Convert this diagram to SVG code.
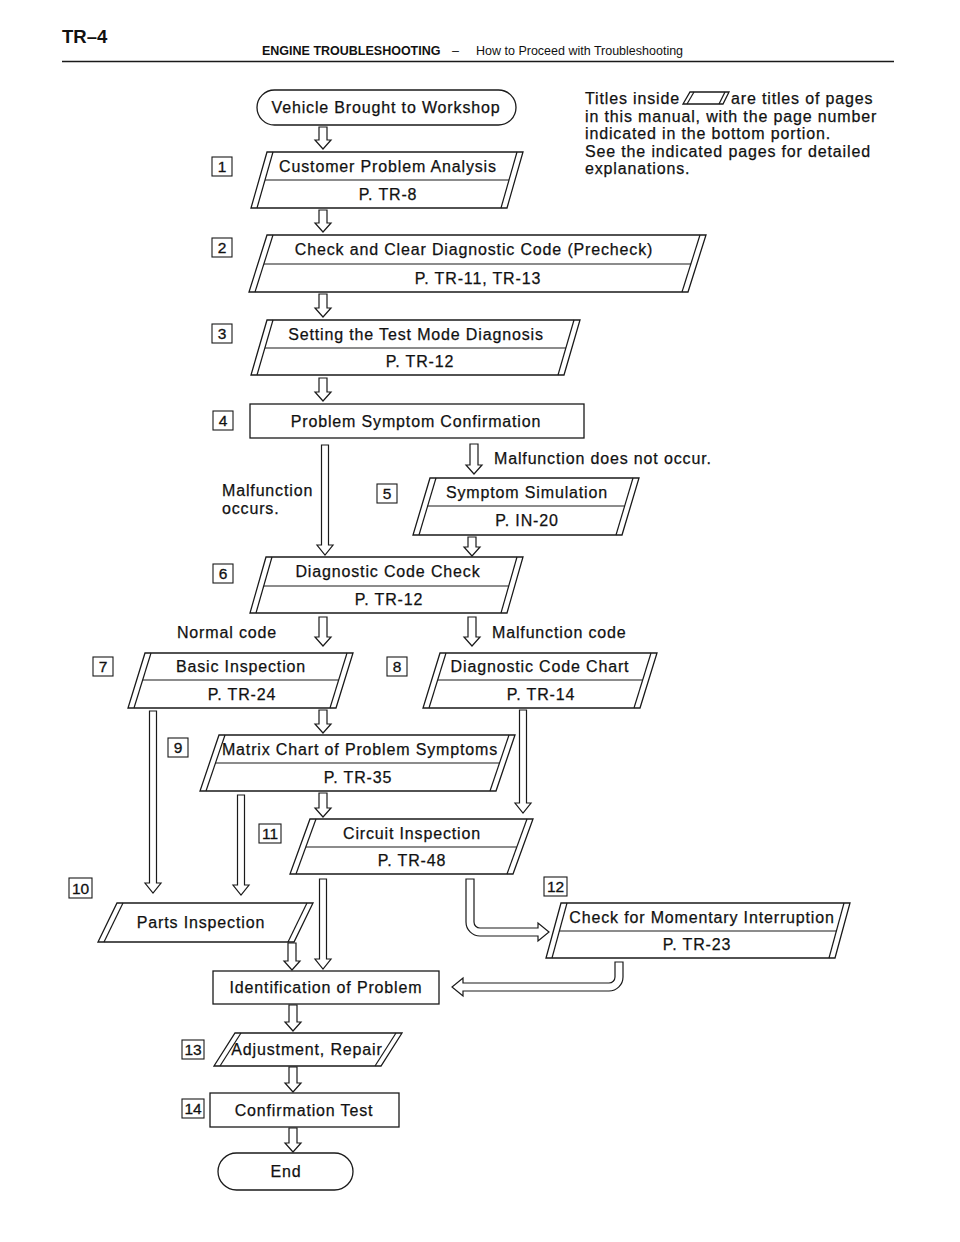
<svg xmlns="http://www.w3.org/2000/svg" width="960" height="1242" viewBox="0 0 960 1242">
<style>
.bg{fill:#fff}
.sh{fill:#fff;stroke:#1a1a1a;stroke-width:1.3}
.ln{fill:none;stroke:#1a1a1a;stroke-width:1.2}
.t{font-family:"Liberation Sans",Arial,sans-serif;font-size:16px;letter-spacing:0.85px;fill:#111;stroke:#111;stroke-width:0.25;text-anchor:middle}
.tl{font-family:"Liberation Sans",Arial,sans-serif;font-size:16px;letter-spacing:0.85px;fill:#111;stroke:#111;stroke-width:0.25}
.nb{fill:#fff;stroke:#1a1a1a;stroke-width:1.1}
.nt{font-family:"Liberation Sans",Arial,sans-serif;font-size:15.5px;fill:#111;stroke:#111;stroke-width:0.3;text-anchor:middle}
.ar{fill:#fff;stroke:#1a1a1a;stroke-width:1.2;stroke-linejoin:miter}
.hb{font-family:"Liberation Sans",Arial,sans-serif;font-weight:bold;fill:#111}
.hr{font-family:"Liberation Sans",Arial,sans-serif;fill:#111}
</style>
<rect class="bg" x="0" y="0" width="960" height="1242"/>

<g id="header">
<text class="hb" x="62" y="43" font-size="18.5">TR–4</text>
<text class="hb" x="262" y="55" font-size="12.5">ENGINE TROUBLESHOOTING</text>
<text class="hr" x="452" y="55" font-size="12.5">–</text>
<text class="hr" x="476" y="55" font-size="12.5">How to Proceed with Troubleshooting</text>
<line x1="62" y1="61.5" x2="894" y2="61.5" stroke="#1a1a1a" stroke-width="1.6"/>
</g>

<g id="note">
<text class="tl" x="585" y="104">Titles inside</text>
<polygon class="sh" points="690,92 729,92 723,104 683,104" stroke-width="1"/>
<line class="ln" x1="694" y1="92" x2="687" y2="104" stroke-width="1"/>
<line class="ln" x1="725" y1="92" x2="719" y2="104" stroke-width="1"/>
<text class="tl" x="731" y="104">are titles of pages</text>
<text class="tl" x="585" y="121.5">in this manual, with the page number</text>
<text class="tl" x="585" y="139">indicated in the bottom portion.</text>
<text class="tl" x="585" y="156.5">See the indicated pages for detailed</text>
<text class="tl" x="585" y="174">explanations.</text>
</g>

<g id="connectors">
<path class="ar" d="M319 127 V140 H315 L323 149 L331 140 H327 V127 Z"/>
<path class="ar" d="M319 210 V223 H315 L323 232 L331 223 H327 V210 Z"/>
<path class="ar" d="M319 294 V308 H315 L323 317 L331 308 H327 V294 Z"/>
<path class="ar" d="M319 378 V392 H315 L323 401 L331 392 H327 V378 Z"/>
<path class="ar" d="M470 444 V465 H466 L474 474 L482 465 H478 V444 Z"/>
<path class="ar" d="M468 537 V547 H464 L472 556 L480 547 H476 V537 Z"/>
<path class="ar" d="M319 617 V637 H315 L323 646 L331 637 H327 V617 Z"/>
<path class="ar" d="M468 617 V637 H464 L472 646 L480 637 H476 V617 Z"/>
<path class="ar" d="M319 710 V724 H315 L323 733 L331 724 H327 V710 Z"/>
<path class="ar" d="M319 793 V808 H315 L323 817 L331 808 H327 V793 Z"/>
<path class="ar" d="M288 943 V961 H284 L292 970 L300 961 H296 V943 Z"/>
<path class="ar" d="M289 1005 V1022 H285 L293 1031 L301 1022 H297 V1005 Z"/>
<path class="ar" d="M289 1067 V1083 H285 L293 1092 L301 1083 H297 V1067 Z"/>
<path class="ar" d="M289 1128 V1143 H285 L293 1152 L301 1143 H297 V1128 Z"/>
<path class="ar" d="M321.5 445 V545 H317 L325 555 L333 545 H328.5 V445 Z"/>
<path class="ar" d="M149.5 711 V883 H145 L153 893 L161 883 H156.5 V711 Z"/>
<path class="ar" d="M519.5 710 V803 H515 L523 813 L531 803 H526.5 V710 Z"/>
<path class="ar" d="M237.5 795 V885 H233 L241 895 L249 885 H244.5 V795 Z"/>
<path class="ar" d="M319.5 879 V959 H315 L323 969 L331 959 H326.5 V879 Z"/>
<path class="ar" d="M466 879 V922 A14 14 0 0 0 480 936 H538 V941 L549 932 L538 923 V928 H480 A6 6 0 0 1 474 922 V879 Z"/>
<path class="ar" d="M615 962 V977 A6 6 0 0 1 609 983 H463 V978 L452 987 L463 996 V991 H609 A14 14 0 0 0 623 977 V962 Z"/>
</g>

<g id="connector-labels">
<text class="tl" x="222" y="496">Malfunction</text>
<text class="tl" x="222" y="514">occurs.</text>
<text class="tl" x="494" y="464" letter-spacing="1.35">Malfunction does not occur.</text>
<text class="tl" x="277" y="638" text-anchor="end">Normal code</text>
<text class="tl" x="492" y="638">Malfunction code</text>
</g>

<g id="start">
<rect class="sh" x="257" y="90" width="259" height="35" rx="17.5"/>
<text class="t" x="386" y="113">Vehicle Brought to Workshop</text>
</g>

<g id="n1">
<rect class="nb" x="212" y="157" width="20" height="19"/><text class="nt" x="222" y="172">1</text>
<polygon class="sh" points="267,152 523,152 507,208 251,208"/>
<line class="ln" x1="273" y1="152" x2="257" y2="208"/><line class="ln" x1="517" y1="152" x2="501" y2="208"/>
<line class="ln" x1="265" y1="180" x2="509" y2="180"/>
<text class="t" x="388" y="171.5">Customer Problem Analysis</text>
<text class="t" x="388" y="199.5">P. TR-8</text>
</g>

<g id="n2">
<rect class="nb" x="212" y="238" width="20" height="19"/><text class="nt" x="222" y="253">2</text>
<polygon class="sh" points="267,235 706,235 688,292 249,292"/>
<line class="ln" x1="273" y1="235" x2="255" y2="292"/><line class="ln" x1="700" y1="235" x2="682" y2="292"/>
<line class="ln" x1="264" y1="264" x2="691" y2="264"/>
<text class="t" x="474" y="255">Check and Clear Diagnostic Code (Precheck)</text>
<text class="t" x="478" y="283.5">P. TR-11, TR-13</text>
</g>

<g id="n3">
<rect class="nb" x="212" y="324" width="20" height="19"/><text class="nt" x="222" y="339">3</text>
<polygon class="sh" points="267,320 580,320 564,375 251,375"/>
<line class="ln" x1="273" y1="320" x2="257" y2="375"/><line class="ln" x1="574" y1="320" x2="558" y2="375"/>
<line class="ln" x1="265" y1="348" x2="566" y2="348"/>
<text class="t" x="416" y="339.5">Setting the Test Mode Diagnosis</text>
<text class="t" x="420" y="367">P. TR-12</text>
</g>

<g id="n4">
<rect class="nb" x="213" y="411" width="20" height="19"/><text class="nt" x="223" y="426">4</text>
<rect class="sh" x="250" y="404" width="334" height="34"/>
<text class="t" x="416" y="426.5">Problem Symptom Confirmation</text>
</g>

<g id="n5">
<rect class="nb" x="377" y="484" width="20" height="19"/><text class="nt" x="387" y="499">5</text>
<polygon class="sh" points="430,478 639,478 622,535 413,535"/>
<line class="ln" x1="436" y1="478" x2="419" y2="535"/><line class="ln" x1="633" y1="478" x2="616" y2="535"/>
<line class="ln" x1="427.6" y1="506" x2="624.6" y2="506"/>
<text class="t" x="527" y="497.5">Symptom Simulation</text>
<text class="t" x="527" y="526">P. IN-20</text>
</g>

<g id="n6">
<rect class="nb" x="213" y="564" width="20" height="19"/><text class="nt" x="223" y="579">6</text>
<polygon class="sh" points="266,557 523,557 507,613 250,613"/>
<line class="ln" x1="272" y1="557" x2="256" y2="613"/><line class="ln" x1="517" y1="557" x2="501" y2="613"/>
<line class="ln" x1="263.7" y1="586" x2="508.7" y2="586"/>
<text class="t" x="388" y="576.5">Diagnostic Code Check</text>
<text class="t" x="389" y="605">P. TR-12</text>
</g>

<g id="n7">
<rect class="nb" x="93" y="657" width="20" height="19"/><text class="nt" x="103" y="672">7</text>
<polygon class="sh" points="145,653 353,653 336,708 128,708"/>
<line class="ln" x1="151" y1="653" x2="134" y2="708"/><line class="ln" x1="347" y1="653" x2="330" y2="708"/>
<line class="ln" x1="142.7" y1="680" x2="338.7" y2="680"/>
<text class="t" x="241" y="672">Basic Inspection</text>
<text class="t" x="242" y="699.5">P. TR-24</text>
</g>

<g id="n8">
<rect class="nb" x="387" y="657" width="20" height="19"/><text class="nt" x="397" y="672">8</text>
<polygon class="sh" points="440,653 657,653 640,708 423,708"/>
<line class="ln" x1="446" y1="653" x2="429" y2="708"/><line class="ln" x1="651" y1="653" x2="634" y2="708"/>
<line class="ln" x1="437.7" y1="680" x2="642.7" y2="680"/>
<text class="t" x="540" y="672">Diagnostic Code Chart</text>
<text class="t" x="541" y="699.5">P. TR-14</text>
</g>

<g id="n9">
<rect class="nb" x="168" y="738" width="20" height="19"/><text class="nt" x="178" y="753">9</text>
<polygon class="sh" points="219,735 515,735 496,791 200,791"/>
<line class="ln" x1="225" y1="735" x2="206" y2="791"/><line class="ln" x1="509" y1="735" x2="490" y2="791"/>
<line class="ln" x1="215.5" y1="763" x2="499.5" y2="763"/>
<text class="t" x="360" y="754.5">Matrix Chart of Problem Symptoms</text>
<text class="t" x="358" y="782.5">P. TR-35</text>
</g>

<g id="n10">
<rect class="nb" x="69" y="878" width="23" height="20"/><text class="nt" x="80.5" y="894">10</text>
<polygon class="sh" points="117,903 313,903 294,942 98,942"/>
<line class="ln" x1="123" y1="903" x2="104" y2="942"/><line class="ln" x1="307" y1="903" x2="288" y2="942"/>
<text class="t" x="201" y="928">Parts Inspection</text>
</g>

<g id="n11">
<rect class="nb" x="259" y="824" width="22" height="19"/><text class="nt" x="270" y="839">11</text>
<polygon class="sh" points="310,819 533,819 513,874 290,874"/>
<line class="ln" x1="316" y1="819" x2="296" y2="874"/><line class="ln" x1="527" y1="819" x2="507" y2="874"/>
<line class="ln" x1="305.8" y1="847" x2="516.8" y2="847"/>
<text class="t" x="412" y="838.5">Circuit Inspection</text>
<text class="t" x="412" y="866">P. TR-48</text>
</g>

<g id="n12">
<rect class="nb" x="544" y="877" width="23" height="19"/><text class="nt" x="555.5" y="892">12</text>
<polygon class="sh" points="561,903 850,903 835,958 546,958"/>
<line class="ln" x1="567" y1="903" x2="552" y2="958"/><line class="ln" x1="844" y1="903" x2="829" y2="958"/>
<line class="ln" x1="559.4" y1="931" x2="836.4" y2="931"/>
<text class="t" x="702" y="922.5">Check for Momentary Interruption</text>
<text class="t" x="697" y="950">P. TR-23</text>
</g>

<g id="identification">
<rect class="sh" x="213" y="971" width="226" height="33"/>
<text class="t" x="326" y="993">Identification of Problem</text>
</g>

<g id="n13">
<rect class="nb" x="182" y="1040" width="22" height="19"/><text class="nt" x="193" y="1055">13</text>
<polygon class="sh" points="235,1033 402,1033 381,1066 214,1066"/>
<line class="ln" x1="241" y1="1033" x2="220" y2="1066"/><line class="ln" x1="396" y1="1033" x2="375" y2="1066"/>
<text class="t" x="307" y="1055">Adjustment, Repair</text>
</g>

<g id="n14">
<rect class="nb" x="182" y="1099" width="22" height="19"/><text class="nt" x="193" y="1114">14</text>
<rect class="sh" x="210" y="1093" width="189" height="34"/>
<text class="t" x="304" y="1115.5">Confirmation Test</text>
</g>

<g id="end">
<rect class="sh" x="218" y="1153" width="135" height="37" rx="18.5"/>
<text class="t" x="286" y="1177">End</text>
</g>
</svg>
